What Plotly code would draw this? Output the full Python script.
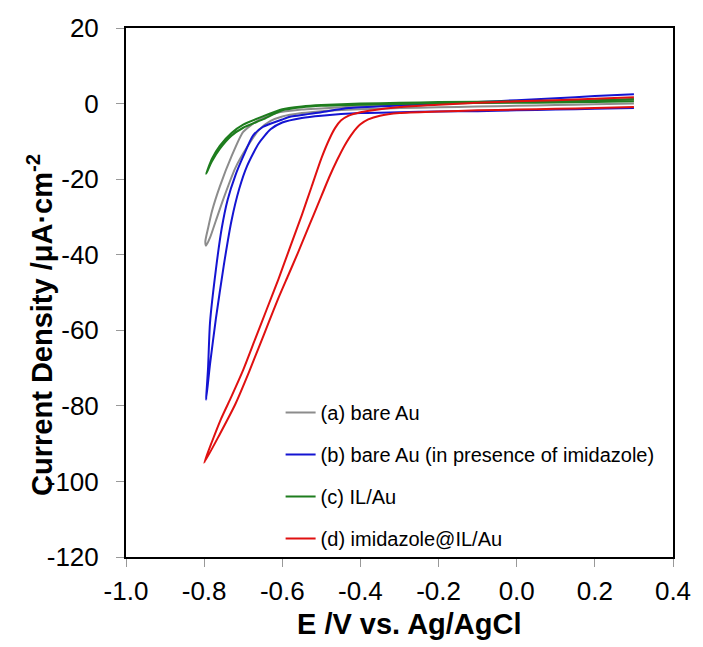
import plotly.graph_objects as go

# ---------------- data ----------------
# (a) bare Au : cathodic sweep 0.3 -> -0.8 then return to 0.3
xa = [0.30, 0.20, 0.10, 0.00, -0.10, -0.20, -0.30, -0.40, -0.50, -0.55, -0.60, -0.63, -0.66, -0.69, -0.72, -0.75, -0.77, -0.785, -0.795,
      -0.797, -0.79, -0.78, -0.76, -0.73, -0.70, -0.66, -0.615, -0.55, -0.50, -0.40, -0.30, -0.20, -0.10, 0.00, 0.10, 0.20, 0.30]
ya = [0.0, -0.2, -0.4, -0.6, -0.8, -1.0, -1.2, -1.5, -2.0, -2.5, -3.4, -4.6, -7.0, -11.5, -17.0, -25.0, -31.0, -35.5, -37.6,
      -36.5, -33.0, -28.5, -22.0, -14.0, -7.5, -4.3, -2.5, -1.6, -1.3, -0.7, -0.3, 0.0, 0.2, 0.4, 0.6, 0.8, 1.0]

# (b) bare Au (in presence of imidazole)
xb = [0.30, 0.20, 0.10, 0.00, -0.10, -0.20, -0.30, -0.40, -0.50, -0.55, -0.60, -0.63, -0.66, -0.69, -0.71, -0.73, -0.75, -0.77, -0.785, -0.795,
      -0.79, -0.785, -0.77, -0.755, -0.74, -0.72, -0.70, -0.675, -0.65, -0.60, -0.58, -0.50, -0.43, -0.30, -0.20, -0.10, 0.00, 0.10, 0.20, 0.30]
yb = [-1.2, -1.4, -1.6, -1.8, -2.0, -2.1, -2.3, -2.5, -3.2, -3.8, -5.0, -6.8, -10.5, -16.5, -22.5, -31.0, -43.0, -57.0, -69.0, -78.4,
      -70.0, -58.0, -44.0, -33.0, -25.5, -19.0, -14.0, -8.5, -6.2, -4.2, -3.5, -2.3, -1.2, -0.5, 0.0, 0.4, 0.9, 1.4, 2.0, 2.5]

# (c) IL/Au
xc = [0.30, 0.20, 0.10, 0.00, -0.20, -0.30, -0.40, -0.50, -0.55, -0.60, -0.65, -0.70, -0.73, -0.76, -0.78, -0.795,
      -0.78, -0.76, -0.73, -0.70, -0.65, -0.60, -0.55, -0.50, -0.40, -0.30, -0.20, 0.00, 0.20, 0.30]
yc = [0.6, 0.4, 0.3, 0.2, 0.1, -0.1, -0.3, -0.6, -1.0, -1.8, -4.2, -6.4, -8.5, -12.0, -15.3, -18.6,
      -14.6, -11.2, -7.8, -5.6, -3.4, -1.5, -0.8, -0.4, 0.0, 0.2, 0.4, 0.6, 0.9, 1.2]

# (d) imidazole@IL/Au
xd = [0.30, 0.20, 0.10, 0.00, -0.10, -0.20, -0.30, -0.35, -0.38, -0.40, -0.42, -0.44, -0.46, -0.48, -0.50, -0.52, -0.54, -0.56, -0.585, -0.61, -0.635, -0.66, -0.685, -0.72, -0.76, -0.80,
      -0.78, -0.757, -0.73, -0.70, -0.67, -0.64, -0.61, -0.58, -0.55, -0.525, -0.50, -0.48, -0.465, -0.45, -0.43, -0.40, -0.35, -0.30, -0.20, -0.10, 0.00, 0.10, 0.20, 0.30]
yd = [-0.9, -1.2, -1.4, -1.6, -1.8, -2.1, -2.5, -3.2, -4.2, -5.5, -7.8, -11.0, -15.0, -19.5, -24.5, -29.5, -34.5, -39.5, -45.5, -51.5, -58.0, -64.5, -71.0, -79.5, -87.5, -95.1,
      -89.5, -83.5, -77.5, -70.5, -62.5, -54.5, -46.5, -38.0, -29.5, -22.0, -14.5, -9.5, -6.5, -4.5, -3.2, -2.3, -1.5, -0.9, -0.3, 0.2, 0.6, 0.9, 1.3, 1.7]

series_names = ["(a) bare Au", "(b) bare Au (in presence of imidazole)", "(c) IL/Au", "(d) imidazole@IL/Au"]
series_colors = ["#8c8c8c", "#1414d2", "#1e7d1e", "#e01010"]

x_tickvals = [-1.0, -0.8, -0.6, -0.4, -0.2, 0.0, 0.2, 0.4]
x_ticktext = ["-1.0", "-0.8", "-0.6", "-0.4", "-0.2", "0.0", "0.2", "0.4"]
y_tickvals = [20, 0, -20, -40, -60, -80, -100, -120]
y_ticktext = ["20", "0", "-20", "-40", "-60", "-80", "-100", "-120"]

x_title = "<b>E /V vs. Ag/AgCl</b>"
y_title = "<b>Current Density /μA·cm<sup>-2</sup></b>"

# ---------------- figure ----------------
fig = go.Figure()
for i, (xs, ys) in enumerate([(xa, ya), (xb, yb), (xc, yc), (xd, yd)]):
    fig.add_trace(go.Scatter(
        x=xs, y=ys, mode="lines", name=series_names[i], legendgroup=str(i),
        line=dict(color=series_colors[i], width=2, shape="spline", smoothing=0.6),
    ))

font_family = "Liberation Sans, Arial, sans-serif"
L, R, T, B = 126, 18, 28, 90
W, H = 703, 647
pw, ph = W - L - R, H - T - B

fig.update_layout(
    width=W, height=H,
    margin=dict(l=L, r=R, t=T, b=B),
    paper_bgcolor="white", plot_bgcolor="white",
    font=dict(family=font_family, color="black"),
    showlegend=True,
    legend=dict(x=(284 - L) / pw, y=(H - B - 393) / ph, xanchor="left", yanchor="top",
                font=dict(size=20, family=font_family, color="black"),
                bgcolor="rgba(0,0,0,0)", tracegroupgap=13, itemwidth=30),
    xaxis=dict(range=[-1.0, 0.4], tickvals=x_tickvals, ticktext=x_ticktext,
               showline=True, linecolor="black", linewidth=2, mirror=True,
               ticks="outside", ticklen=8, tickcolor="#999999", tickwidth=1,
               ticklabeloverflow="allow", ticklabelstandoff=2,
               showgrid=False, zeroline=False,
               tickfont=dict(size=26, family=font_family)),
    yaxis=dict(range=[-120, 20], tickvals=y_tickvals, ticktext=y_ticktext,
               showline=True, linecolor="black", linewidth=2, mirror=True,
               ticks="outside", ticklen=8, tickcolor="#999999", tickwidth=1,
               ticklabelstandoff=12, ticklabeloverflow="allow",
               showgrid=False, zeroline=False,
               tickfont=dict(size=26, family=font_family)),
    annotations=[
        dict(text=x_title, xref="paper", yref="paper",
             x=(416 - L) / pw, y=(H - B - 624) / ph, xanchor="center", yanchor="middle",
             showarrow=False, font=dict(size=29, family=font_family, color="black")),
        dict(text=y_title, xref="paper", yref="paper", textangle=-90,
             x=(38 - L) / pw, y=(H - B - 325) / ph, xanchor="center", yanchor="middle",
             showarrow=False, font=dict(size=29, family=font_family, color="black")),
    ],
)

fig.write_html("out.html", config={"displayModeBar": False},
               post_script="document.body.style.margin='0';document.body.style.overflow='hidden';")
